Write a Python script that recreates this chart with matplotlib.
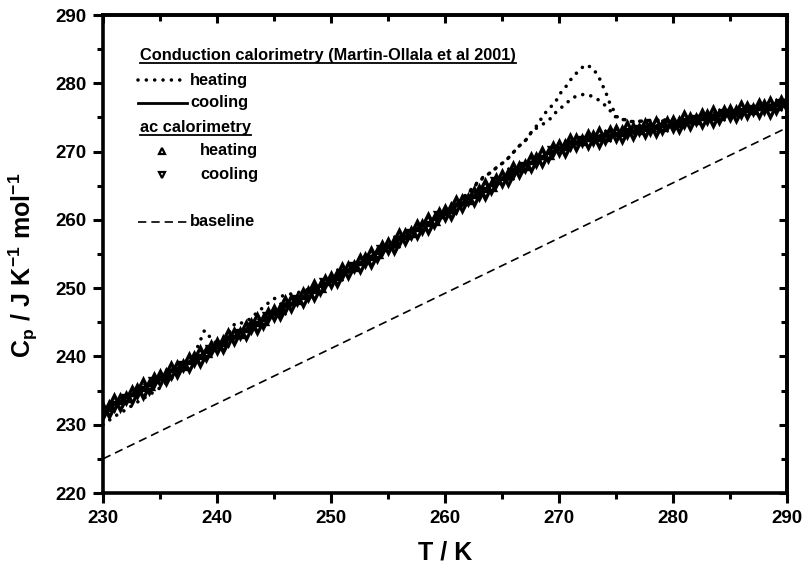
import numpy as np
import matplotlib
matplotlib.use("Agg")
import matplotlib.pyplot as plt
from matplotlib.ticker import MultipleLocator

plt.rcParams['font.family'] = ['Liberation Sans', 'DejaVu Sans']
plt.rcParams['font.weight'] = 'bold'
plt.rcParams['mathtext.fontset'] = 'custom'
plt.rcParams['mathtext.rm'] = 'Liberation Sans:bold'
plt.rcParams['mathtext.it'] = 'Liberation Sans:bold'
plt.rcParams['mathtext.bf'] = 'Liberation Sans:bold'
plt.rcParams['lines.scale_dashes'] = False

# ---------------- data ----------------
# ac calorimetry, 0.5 K steps from 230 K to 290 K
ac_T = np.arange(230.0, 290.01, 0.5)
ac_heating = [
    232.5, 232.7, 233.8, 233.8, 234.0, 235.0, 235.2, 236.1, 235.8, 236.8,
    237.3, 237.5, 238.5, 238.6, 238.8, 239.8, 239.9, 240.8, 240.6, 241.5,
    242.0, 242.2, 243.3, 243.4, 243.5, 244.5, 244.7, 245.6, 245.3, 246.3,
    246.8, 247.0, 248.1, 248.2, 248.4, 249.3, 249.5, 250.4, 250.2, 251.2,
    251.7, 251.9, 253.0, 253.1, 253.3, 254.2, 254.4, 255.3, 255.1, 256.1,
    256.6, 256.8, 257.9, 258.0, 258.2, 259.2, 259.3, 260.2, 260.0, 261.0,
    261.5, 261.7, 262.8, 262.9, 263.1, 264.1, 264.3, 265.2, 265.0, 266.0,
    266.5, 266.7, 267.8, 267.8, 268.0, 269.0, 269.1, 270.0, 269.7, 270.6,
    271.0, 271.0, 271.9, 271.8, 271.7, 272.4, 272.3, 272.9, 272.3, 273.0,
    273.1, 273.0, 273.7, 273.5, 273.3, 274.0, 273.8, 274.4, 273.8, 274.4,
    274.5, 274.4, 275.2, 274.9, 274.8, 275.5, 275.3, 275.9, 275.3, 276.0,
    276.1, 276.0, 276.7, 276.5, 276.3, 277.0, 276.8, 277.3, 276.8, 277.4,
    277.5]
ac_cooling = [
    231.6, 231.7, 232.8, 232.8, 233.8, 233.7, 234.6, 234.5, 235.3, 236.3,
    236.4, 236.5, 237.5, 237.6, 238.6, 238.5, 239.3, 239.2, 240.1, 241.0,
    241.1, 241.2, 242.3, 242.4, 243.3, 243.2, 244.1, 244.0, 244.8, 245.8,
    245.9, 246.0, 247.1, 247.2, 248.2, 248.0, 248.9, 248.8, 249.7, 250.7,
    250.8, 250.9, 252.0, 252.1, 253.1, 252.9, 253.8, 253.7, 254.6, 255.6,
    255.7, 255.8, 256.9, 257.0, 258.0, 257.9, 258.7, 258.6, 259.5, 260.5,
    260.6, 260.7, 261.8, 261.9, 262.9, 262.8, 263.7, 263.6, 264.5, 265.5,
    265.6, 265.7, 266.8, 266.8, 267.8, 267.7, 268.5, 268.4, 269.2, 270.1,
    270.1, 270.0, 270.9, 270.8, 271.5, 271.1, 271.7, 271.3, 271.8, 272.5,
    272.2, 272.0, 272.7, 272.5, 273.1, 272.7, 273.2, 272.8, 273.3, 273.9,
    273.6, 273.4, 274.2, 273.9, 274.6, 274.2, 274.7, 274.3, 274.8, 275.5,
    275.2, 275.0, 275.7, 275.5, 276.1, 275.7, 276.2, 275.7, 276.3, 276.9,
    276.6]

# conduction calorimetry (Martin-Ollala et al 2001)
cond_cool_T = [230, 235, 240, 245, 250, 255, 260, 263, 265, 267, 269, 270,
               271, 272, 273, 274, 275, 277, 280, 283, 286, 290]
cond_cool_Cp = [232.0, 236.8, 241.5, 246.3, 251.2, 256.1, 261.0, 264.0, 266.0,
                267.9, 269.7, 270.5, 271.1, 271.6, 272.0, 272.3, 272.6, 273.2,
                274.0, 275.0, 275.9, 277.0]

cond_heat1_T = [230.0, 231.0, 232.0, 233.0, 234.0, 235.0, 236.0, 237.0, 237.8,
                238.3, 238.9, 239.4, 240.0, 241.0, 242.0, 243.0, 244.0, 245.0,
                247.0, 250.0, 253.0, 256.0, 259.0, 261.0, 262.0, 262.8, 263.5,
                264.1, 264.6, 265.3, 265.9, 266.5, 267.1, 267.6, 268.2, 268.6,
                269.2, 269.7, 270.1, 270.6, 271.1, 271.7, 272.3, 272.9, 273.4,
                273.7, 274.0, 274.3, 274.5, 274.9, 275.1, 275.6, 276.2, 276.8,
                277.5, 278.2, 279.0, 280.0, 282.0, 284.0, 286.0, 288.0, 290.0]
cond_heat1_Cp = [230.0, 231.2, 232.2, 233.3, 234.3, 235.4, 236.8, 238.0, 239.4,
                 241.4, 243.8, 242.8, 241.8, 242.6, 243.5, 244.4, 245.3, 246.3,
                 248.3, 251.3, 254.2, 257.2, 260.2, 262.4, 263.9, 265.4, 266.5,
                 267.0, 267.8, 268.6, 269.7, 270.8, 271.7, 272.9, 274.1, 275.3,
                 276.4, 277.3, 278.5, 279.5, 280.7, 281.8, 282.7, 282.3, 281.2,
                 280.2, 279.0, 277.9, 276.8, 275.8, 275.1, 274.8, 274.4, 274.4,
                 274.5, 274.6, 274.6, 274.6, 275.0, 275.6, 276.1, 276.6, 277.2]

cond_heat2_T = [230.0, 235.0, 238.0, 240.0, 241.0, 241.6, 242.3, 242.9, 243.5,
                244.2, 244.9, 246.0, 247.0, 248.0, 250.0, 253.0, 256.0, 259.0,
                261.0, 262.0, 262.8, 263.5, 264.1, 264.6, 265.3, 265.9, 266.5,
                267.1, 267.7, 268.5, 269.3, 269.9, 270.5, 271.1, 271.8, 272.4,
                273.2, 273.8, 274.4, 274.7, 275.1, 275.6, 276.2, 276.8, 277.5,
                278.2, 279.0, 280.0, 282.0, 284.0, 286.0, 288.0, 290.0]
cond_heat2_Cp = [232.0, 236.8, 239.6, 241.6, 243.3, 244.9, 244.9, 245.5, 246.4,
                 247.4, 248.4, 249.0, 249.3, 249.8, 251.2, 254.1, 257.1, 260.0,
                 262.2, 263.8, 265.3, 266.4, 267.0, 267.8, 268.6, 269.7, 270.8,
                 271.7, 273.1, 273.9, 274.9, 276.1, 276.8, 277.8, 278.3, 278.4,
                 277.9, 277.1, 276.3, 275.3, 275.0, 274.7, 274.4, 274.4, 274.5,
                 274.6, 274.6, 274.7, 275.1, 275.7, 276.2, 276.7, 277.3]

baseline_T = [230, 290]
baseline_Cp = [225.0, 273.5]

xticks = [230, 240, 250, 260, 270, 280, 290]
yticks = [220, 230, 240, 250, 260, 270, 280, 290]

# ---------------- figure ----------------
fig = plt.figure(figsize=(8.07, 5.67), dpi=100)
ax = fig.add_axes([103/807, 1-493/567, 684/807, 478/567])

dot_style = dict(color='black', lw=2.6, linestyle=(0, (0.01, 6.0)),
                 dash_capstyle='round', solid_capstyle='round')
dash_style = dict(color='black', lw=1.2, linestyle=(0, (6.0, 3.6)))
mk = dict(linestyle='none', ms=6.2, mfc='none', mec='black', mew=2.4)

ax.plot(ac_T, ac_heating, marker='^', **mk)
ax.plot(ac_T, ac_cooling, marker='v', **mk)
ax.plot(cond_cool_T, cond_cool_Cp, color='black', lw=2.0)
ax.plot(cond_heat1_T, cond_heat1_Cp, **dot_style)
ax.plot(cond_heat2_T, cond_heat2_Cp, **dot_style)
ax.plot(baseline_T, baseline_Cp, **dash_style)

ax.set_xlim(230, 290)
ax.set_ylim(220, 290)
ax.set_xticks(xticks)
ax.set_yticks(yticks)
ax.xaxis.set_minor_locator(MultipleLocator(5))
ax.yaxis.set_minor_locator(MultipleLocator(5))
for s in ax.spines.values():
    s.set_linewidth(2.6)
ax.tick_params(which='major', direction='out', length=7, width=2.2,
               labelsize=13.5, pad=5)
ax.tick_params(which='minor', direction='out', length=4, width=2.2)
for lab in ax.get_xticklabels() + ax.get_yticklabels():
    lab.set_fontweight('bold')

secx = ax.secondary_xaxis('top')
secx.set_xticks(xticks)
secx.xaxis.set_minor_locator(MultipleLocator(5))
secx.tick_params(which='both', direction='in', labeltop=False, width=2.2)
secx.tick_params(which='major', length=6)
secx.tick_params(which='minor', length=4)
secx.spines['top'].set_linewidth(2.6)
secy = ax.secondary_yaxis('right')
secy.set_yticks(yticks)
secy.yaxis.set_minor_locator(MultipleLocator(5))
secy.tick_params(which='both', direction='in', labelright=False, width=2.2)
secy.tick_params(which='major', length=6)
secy.tick_params(which='minor', length=4)
secy.spines['right'].set_linewidth(2.6)

ax.set_xlabel('T / K', fontsize=18, fontweight='bold', labelpad=10)
ax.set_ylabel(r'$\mathbf{C_p\ /\ J\ K^{-1}\ mol^{-1}}$', fontsize=18)
ax.yaxis.set_label_coords((40 - 103) / 684, (493 - 265) / 478)

# ---------------- legend ----------------
fs = 11.8
def fx(px):
    return (px - 103) / 684
def fy(py):
    return (493 - py) / 478

t1 = ax.text(fx(140), fy(60), 'Conduction calorimetry (Martin-Ollala et al 2001)',
             transform=ax.transAxes, fontsize=fs, fontweight='bold', va='baseline')
ax.plot([fx(138), fx(187)], [fy(80), fy(80)], transform=ax.transAxes, **dot_style)
ax.text(fx(190), fy(80), 'heating', transform=ax.transAxes, fontsize=fs,
        fontweight='bold', va='center')
ax.plot([fx(138), fx(187)], [fy(103), fy(103)], transform=ax.transAxes,
        color='black', lw=2.0)
ax.text(fx(190), fy(103), 'cooling', transform=ax.transAxes, fontsize=fs,
        fontweight='bold', va='center')
t2 = ax.text(fx(140), fy(132), 'ac calorimetry', transform=ax.transAxes,
             fontsize=fs, fontweight='bold', va='baseline')
ax.plot([fx(162)], [fy(151)], transform=ax.transAxes, marker='^', ms=5,
        mfc='none', mec='black', mew=1.6, linestyle='none')
ax.text(fx(200), fy(151), 'heating', transform=ax.transAxes, fontsize=fs,
        fontweight='bold', va='center')
ax.plot([fx(162)], [fy(175)], transform=ax.transAxes, marker='v', ms=5,
        mfc='none', mec='black', mew=1.6, linestyle='none')
ax.text(fx(200), fy(175), 'cooling', transform=ax.transAxes, fontsize=fs,
        fontweight='bold', va='center')
ax.plot([fx(138), fx(187)], [fy(222), fy(222)], transform=ax.transAxes,
        **dash_style)
ax.text(fx(190), fy(222), 'baseline', transform=ax.transAxes, fontsize=fs,
        fontweight='bold', va='center')

fig.canvas.draw()
r = fig.canvas.get_renderer()
inv = ax.transAxes.inverted()
for t, ypx in ((t1, 63), (t2, 135)):
    bb = t.get_window_extent(r)
    (x0, _), (x1, _) = inv.transform([[bb.x0, bb.y0], [bb.x1, bb.y1]])
    ax.plot([x0, x1], [fy(ypx), fy(ypx)], transform=ax.transAxes,
            color='black', lw=1.3, clip_on=False)

fig.savefig('out.png', dpi=100)
